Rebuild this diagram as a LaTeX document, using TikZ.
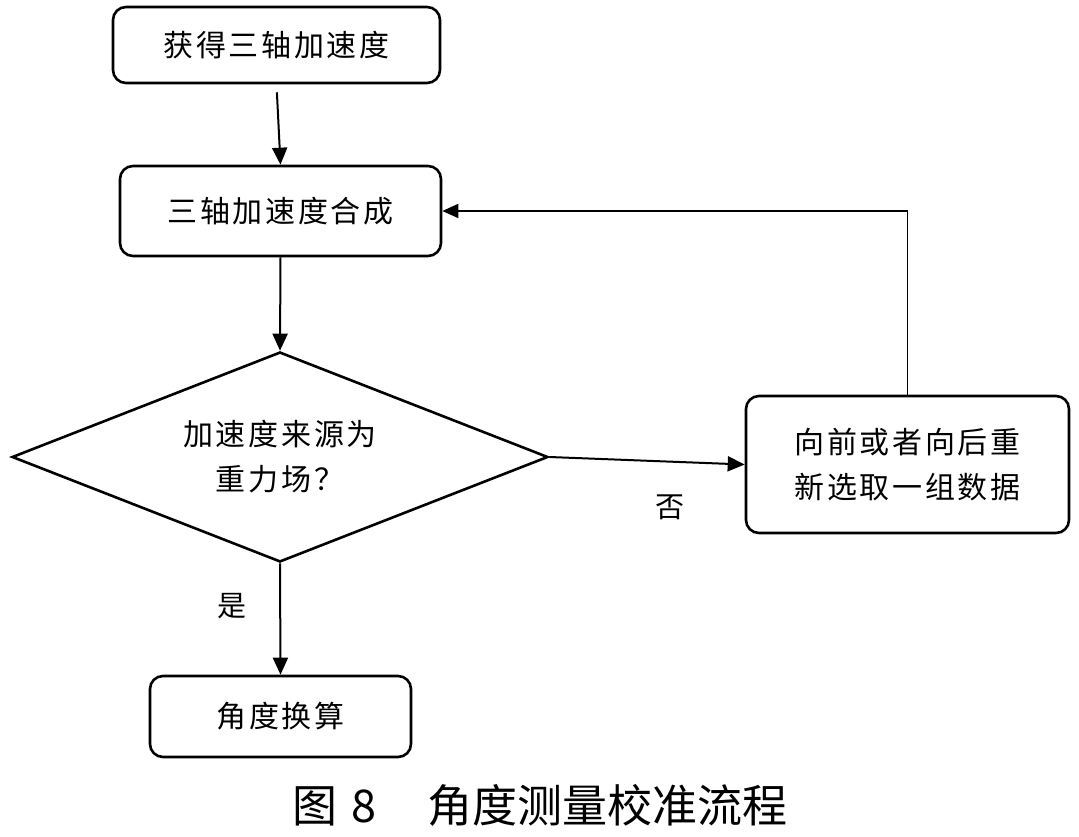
\documentclass[tikz,border=0pt]{standalone}
\usepackage{fontspec}
\setmainfont{Noto Sans CJK SC}
\newfontfamily\cjk[LetterSpace=9]{Noto Sans CJK SC}
\newfontfamily\cjkcap{Noto Sans CJK SC}
\usetikzlibrary{shapes.geometric,arrows.meta}
\tikzset{
  procbox/.style={draw, line width=2.6pt, rounded corners=13pt, inner sep=0pt, align=center,
    font=\fontsize{30}{45}\cjk},
  decbox/.style={draw, line width=2.6pt, diamond, aspect=2.552, minimum width=536pt, minimum height=210pt,
    inner sep=0pt, align=center, font=\fontsize{30}{45}\cjk},
  conn/.style={line width=2pt, -{Triangle[length=17pt,width=15pt]}},
  fb/.style={line width=1.6pt, -{Triangle[length=16pt,width=14pt]}},
  lbl/.style={font=\fontsize{29}{30}\cjk, inner sep=0pt},
}
\begin{document}
\begin{tikzpicture}[x=1pt,y=-1pt]
\useasboundingbox (0,0) rectangle (1079,837);
\node[procbox, minimum width=327pt, minimum height=76pt] (n1) at (276.5,45) {获得三轴加速度};
\node[procbox, minimum width=321pt, minimum height=90pt] (n2) at (280.5,211) {三轴加速度合成};
\node[decbox] (d) at (280,457) {加速度来源为\\重力场？};
\node[procbox, minimum width=323pt, minimum height=137pt] (n3) at (907.5,464.5) {向前或者向后重\\新选取一组数据};
\node[procbox, minimum width=261pt, minimum height=81pt] (n4) at (280.5,716.5) {角度换算};
\node[lbl] (no) at (670,507) {否};
\node[lbl] (yes) at (232,606) {是};
\node[font=\fontsize{45}{48}\cjkcap, inner sep=0pt] (cap) at (540,805) {图\hspace{14pt}8\hspace{52pt}角度测量校准流程};
\draw[conn, shorten <=8pt] (n1.south) -- (n2.north);
\draw[conn] (n2.south) -- (d.north);
\draw[conn] (d.east) -- (n3.west);
\draw[conn] (d.south) -- (n4.north);
\draw[fb] (n3.north) |- (n2.east);
\end{tikzpicture}
\end{document}
